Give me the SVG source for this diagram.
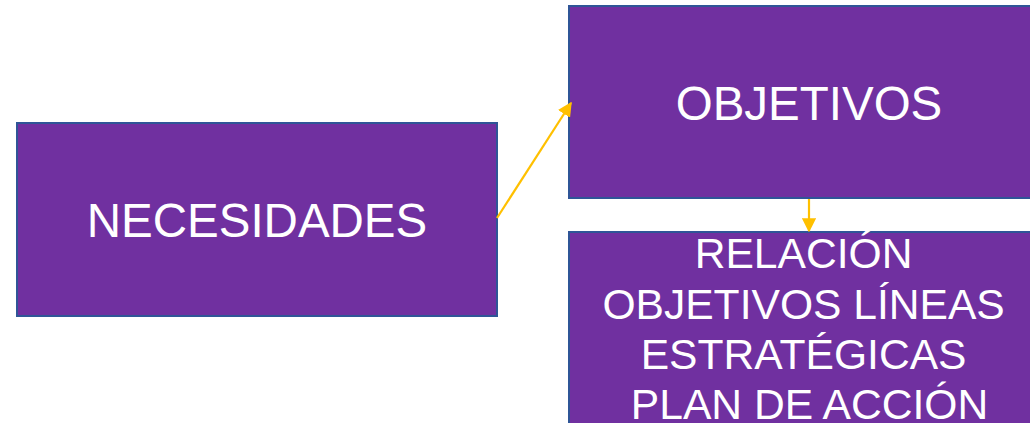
<svg xmlns="http://www.w3.org/2000/svg" width="1030" height="423" viewBox="0 0 1030 423">
<defs>
<style>
.box{fill:#7030A0;stroke:#2F5597;stroke-width:2}
.t{font-family:"Liberation Sans",Arial,sans-serif;fill:#fff;text-anchor:middle}
.c{stroke:#FFC000;stroke-width:2.2;fill:none}
</style>
<marker id="ah" viewBox="0 0 10 10" refX="9" refY="5" markerWidth="6.5" markerHeight="6.5" orient="auto">
<path d="M0,0 L10,5 L0,10 z" fill="#FFC000"/>
</marker>
</defs>
<rect width="1030" height="423" fill="#fff"/>
<g id="necesidades">
<rect class="box" x="17" y="123" width="480" height="193"/>
<text class="t" x="257" y="237" font-size="47.5">NECESIDADES</text>
</g>
<g id="objetivos">
<rect class="box" x="569" y="6" width="470" height="192"/>
<text class="t" x="809" y="120" font-size="47.5">OBJETIVOS</text>
</g>
<g id="relacion">
<rect class="box" x="569" y="232" width="470" height="200"/>
<text class="t" font-size="42.6">
<tspan x="809.5" y="268">RELACIÓN</tspan>
<tspan x="809.5" y="318.5">OBJETIVOS LÍNEAS</tspan>
<tspan x="809.5" y="369">ESTRATÉGICAS</tspan>
<tspan x="809.5" y="419">PLAN DE ACCIÓN</tspan>
</text>
</g>
<g id="connectors">
<line class="c" x1="497" y1="218" x2="571" y2="103" marker-end="url(#ah)"/>
<line class="c" x1="809" y1="199" x2="809" y2="231" marker-end="url(#ah)"/>
</g>
</svg>
